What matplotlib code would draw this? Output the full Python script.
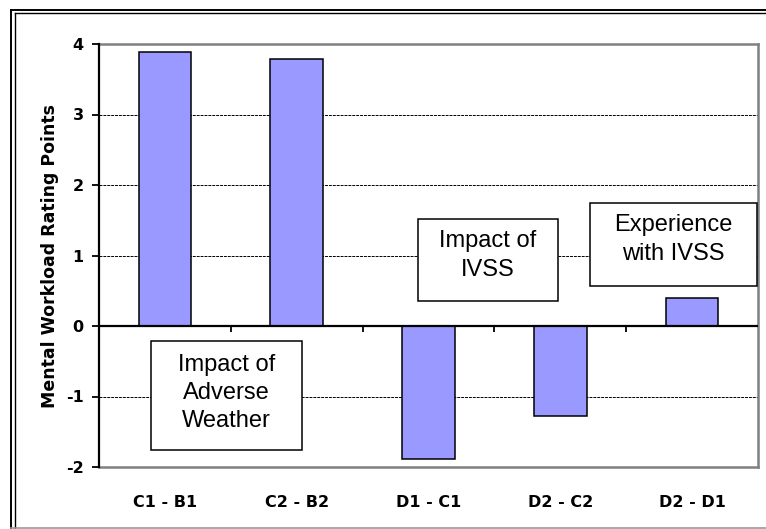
import matplotlib
matplotlib.use('Agg')
import matplotlib.pyplot as plt
from matplotlib.patches import Rectangle
from matplotlib.lines import Line2D

plt.rcParams['font.family'] = ['Liberation Sans', 'DejaVu Sans']

# workload rating differences between drive conditions
pairs = ['C1 - B1', 'C2 - B2', 'D1 - C1', 'D2 - C2', 'D2 - D1']
diffs = [3.88, 3.79, -1.89, -1.28, 0.40]
yticks = [-2, -1, 0, 1, 2, 3, 4]

W, H = 766, 529
fig = plt.figure(figsize=(W / 100, H / 100), dpi=100)

def fx(px):
	return px / W
def fy(py):
	return 1 - py / H

ax = fig.add_axes([fx(99), fy(467), fx(758) - fx(99), fy(44) - fy(467)])
pos = list(range(len(pairs)))
ax.bar(pos, diffs, width=0.4, color='#9999FF', edgecolor='black', linewidth=1.1, zorder=3)
ax.set_xlim(-0.5, len(pairs) - 0.5)
ax.set_ylim(yticks[0], yticks[-1])

# dashed grid lines except at zero
for v in yticks[1:-1]:
	if v != 0:
		ax.axhline(v, color='black', linestyle=(0, (3, 1)), linewidth=0.7, zorder=1)

# zero axis with category separators
ax.axhline(0, color='black', linewidth=1.6, zorder=4)
tick_len = 6 / 70.5
ax.vlines([p + 0.5 for p in pos[:-1]], -tick_len, 0, color='black', linewidth=1.3, zorder=4)

lab_font = dict(family='DejaVu Sans', fontsize=11.5, fontweight='bold')
ax.set_yticks(yticks)
ax.set_yticklabels([str(v) for v in yticks], **lab_font)
ax.tick_params(axis='y', direction='out', length=5, width=1.3, pad=6)
ax.set_xticks(pos)
ax.set_xticklabels(pairs, **lab_font)
ax.tick_params(axis='x', length=0, pad=20)

for s in ['top', 'right', 'bottom']:
	ax.spines[s].set_color('#808080')
	ax.spines[s].set_linewidth(1.8)
ax.spines['left'].set_color('black')
ax.spines['left'].set_linewidth(1.6)
ax.spines['left'].set_zorder(5)

fig.text(fx(50), fy(256), 'Mental Workload Rating Points', rotation=90,
	ha='center', va='center', family='DejaVu Sans', fontsize=12.5, fontweight='bold')

# annotation boxes
boxes = [
	((151, 341, 302, 450), 'Impact of\nAdverse\nWeather', 2.5),
	((418, 219, 558, 301), 'Impact of\nIVSS', 4.5),
	((590, 203, 757, 286), 'Experience\nwith IVSS', 5),
]
for (x0, y0, x1, y1), txt, dy in boxes:
	fig.patches.append(Rectangle((fx(x0), fy(y1)), fx(x1) - fx(x0), fy(y0) - fy(y1),
		transform=fig.transFigure, facecolor='white', edgecolor='black',
		linewidth=1.1, zorder=6))
	fig.text(fx((x0 + x1) / 2), fy((y0 + y1) / 2 - dy), txt, ha='center', va='center',
		fontsize=17, linespacing=1.36, zorder=7)

# outer frame
for px, lw in [(11, 1.4), (14.5, 1.0)]:
	fig.lines.append(Line2D([fx(px), fx(px)], [0, fy(px - 1.5)], transform=fig.transFigure,
		color='black', linewidth=lw))
for py, lw in [(9.5, 1.4), (13, 1.0)]:
	fig.lines.append(Line2D([fx(py + 1.5), 1], [fy(py), fy(py)], transform=fig.transFigure,
		color='black', linewidth=lw))
fig.lines.append(Line2D([fx(11), 1], [fy(527.5), fy(527.5)], transform=fig.transFigure,
	color='#999999', linewidth=1.2))

fig.savefig('out.png', dpi=100)
